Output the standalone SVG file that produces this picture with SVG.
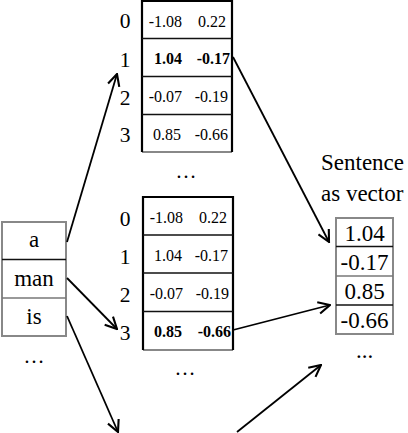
<svg xmlns="http://www.w3.org/2000/svg" width="408" height="433" viewBox="0 0 408 433" font-family="'Liberation Serif', 'Times New Roman', serif">
<style>
text{font-family:'Liberation Serif','Times New Roman',serif;fill:#000}
.lbl{font-size:21.5px;text-anchor:middle}
.val{font-size:16px;text-anchor:end}
.b{font-weight:bold}
.word{font-size:23px;text-anchor:middle}
.dots{font-size:21px;text-anchor:middle}
.vec{font-size:23px;text-anchor:middle}
.cap{font-size:23px}
.thick{stroke:#000;stroke-width:2.2;fill:none}
.gray{stroke:#888;stroke-width:2;fill:none}
.div{stroke:#111;stroke-width:1.3}
.divg{stroke:#777;stroke-width:1.5}
.arr{stroke:#000;stroke-width:1.8;fill:none;marker-end:url(#ah)}
</style>
<defs>
<marker id="ah" markerUnits="userSpaceOnUse" markerWidth="14" markerHeight="14" viewBox="0 0 12 12" refX="11" refY="6" orient="auto">
<path d="M1,1 L11,6 L1,11" fill="none" stroke="#000" stroke-width="1.8"/>
</marker>
</defs>

<g id="words">
<rect x="2" y="222" width="64" height="114" class="gray"/>
<line x1="2" y1="259.5" x2="66" y2="259.5" class="div"/>
<line x1="2" y1="298" x2="66" y2="298" class="divg"/>
<text x="34" y="247" class="word">a</text>
<text x="34" y="286" class="word">man</text>
<text x="34" y="323.5" class="word">is</text>
<text x="34" y="363" class="dots">…</text>
</g>

<g id="table1">
<line x1="142" y1="152" x2="232" y2="152" class="gray"/>
<path d="M142,152 V1 H232 V152" class="thick"/>
<line x1="142" y1="38.5" x2="232" y2="38.5" class="div"/>
<line x1="142" y1="76.5" x2="232" y2="76.5" class="div"/>
<line x1="142" y1="114.5" x2="232" y2="114.5" class="div"/>
<text x="125" y="28" class="lbl">0</text>
<text x="125" y="66.5" class="lbl">1</text>
<text x="125" y="104.5" class="lbl">2</text>
<text x="125" y="142" class="lbl">3</text>
<text x="182" y="26.5" class="val">-1.08</text><text x="226" y="26.5" class="val">0.22</text>
<text x="182" y="64" class="val b">1.04</text><text x="230" y="64" class="val b">-0.17</text>
<text x="182" y="102" class="val">-0.07</text><text x="228" y="102" class="val">-0.19</text>
<text x="181" y="140" class="val">0.85</text><text x="228" y="140" class="val">-0.66</text>
<text x="186" y="178" class="dots">…</text>
</g>

<g id="table2">
<line x1="143" y1="350" x2="233" y2="350" class="gray"/>
<path d="M143,350 V197 H233 V350" class="thick"/>
<line x1="143" y1="235" x2="233" y2="235" class="div"/>
<line x1="143" y1="273" x2="233" y2="273" class="div"/>
<line x1="143" y1="311.5" x2="233" y2="311.5" class="div"/>
<text x="125" y="225.5" class="lbl">0</text>
<text x="125" y="264" class="lbl">1</text>
<text x="125" y="302" class="lbl">2</text>
<text x="125" y="340" class="lbl">3</text>
<text x="183" y="222.5" class="val">-1.08</text><text x="227" y="222.5" class="val">0.22</text>
<text x="182" y="261" class="val">1.04</text><text x="228" y="261" class="val">-0.17</text>
<text x="183" y="299" class="val">-0.07</text><text x="229" y="299" class="val">-0.19</text>
<text x="182" y="337" class="val b">0.85</text><text x="231" y="337" class="val b">-0.66</text>
<text x="185" y="375" class="dots">…</text>
</g>

<g id="sentence">
<text x="321" y="170" class="cap">Sentence</text>
<text x="321" y="201" class="cap">as vector</text>
<rect x="336" y="218" width="57" height="116" class="gray"/>
<line x1="336" y1="246.5" x2="393" y2="246.5" class="div"/>
<line x1="336" y1="276" x2="393" y2="276" class="divg"/>
<line x1="336" y1="305" x2="393" y2="305" class="div"/>
<text x="364.5" y="241" class="vec">1.04</text>
<text x="364.5" y="270" class="vec">-0.17</text>
<text x="364.5" y="299" class="vec">0.85</text>
<text x="364.5" y="328" class="vec">-0.66</text>
<text x="364.5" y="358" class="vec">...</text>
</g>

<g id="connectors">
<line x1="67" y1="242" x2="117" y2="74" class="arr"/>
<line x1="67" y1="278" x2="117" y2="329" class="arr"/>
<line x1="67" y1="316" x2="118" y2="432" class="arr"/>
<line x1="233" y1="57" x2="329" y2="242" class="arr"/>
<line x1="233" y1="330" x2="330" y2="305" class="arr"/>
<line x1="237" y1="432" x2="321" y2="365" class="arr"/>
</g>
</svg>
